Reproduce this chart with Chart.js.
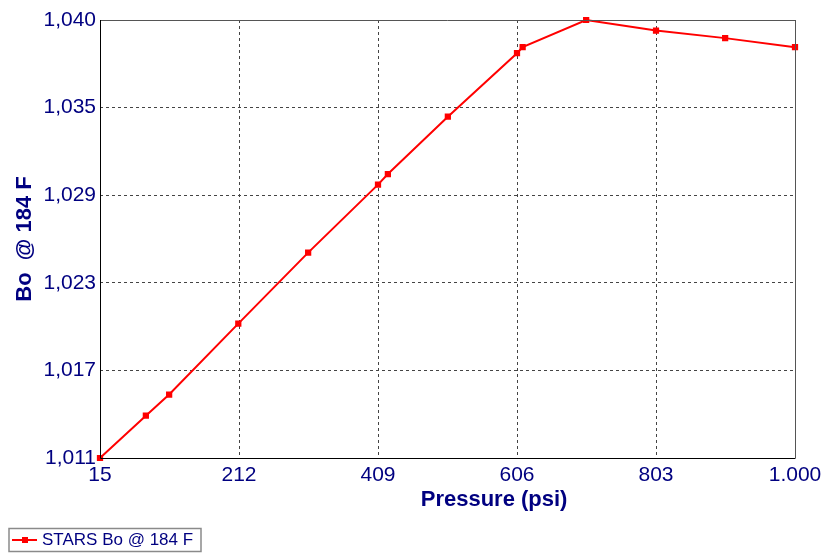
<!DOCTYPE html>
<html>
<head>
<meta charset="utf-8">
<script src="https://cdn.jsdelivr.net/npm/chart.js@4/dist/chart.umd.min.js"></script>
<style>
  html, body { margin: 0; padding: 0; background: #fff; }
  #wrap { width: 827px; height: 553px; position: relative; }
</style>
</head>
<body>
<div id="wrap"><canvas id="myChart" width="827" height="553"></canvas></div>
<script>
// valores
const pressure = [15, 80, 113, 211, 310, 409, 423, 508, 606, 614, 704, 803, 901, 1000];
const bo = [1.0110, 1.0138, 1.0152, 1.0199, 1.0246, 1.0291, 1.0298, 1.0336, 1.0378, 1.0382, 1.0400, 1.0393, 1.0388, 1.0382];
const xTicks = [15, 212, 409, 606, 803, 1000];
const xLabels = ["15", "212", "409", "606", "803", "1.000"];
const yLabels = ["1,011", "1,017", "1,023", "1,029", "1,035", "1,040"];
const yMin = 1.011, yMax = 1.040;
const serieLabel = "STARS Bo @ 184 F";

const navy = "#000080";
const fuente = "'Liberation Sans', Arial, sans-serif";

// marco, titulo del eje x y leyenda
const extras = {
  id: "extras",
  afterDraw(chart) {
    const { ctx, chartArea: a } = chart;
    ctx.save();
    ctx.lineWidth = 1;
    ctx.strokeStyle = "#555";
    ctx.beginPath();
    ctx.moveTo(a.left, a.top + 0.5);
    ctx.lineTo(a.right + 0.5, a.top + 0.5);
    ctx.lineTo(a.right + 0.5, a.bottom);
    ctx.stroke();
    ctx.strokeStyle = "#000";
    ctx.beginPath();
    ctx.moveTo(a.left + 0.5, a.top);
    ctx.lineTo(a.left + 0.5, a.bottom + 0.5);
    ctx.lineTo(a.right + 0.5, a.bottom + 0.5);
    ctx.stroke();

    // titulo eje x
    ctx.fillStyle = navy;
    ctx.font = "bold 22px " + fuente;
    ctx.textAlign = "center";
    ctx.textBaseline = "middle";
    ctx.fillText("Pressure (psi)", a.left + (a.right - a.left) * 0.567, 500);

    // leyenda
    ctx.strokeStyle = "#8a8a8a";
    ctx.lineWidth = 1.5;
    ctx.strokeRect(9, 528.5, 192, 23);
    ctx.strokeStyle = "#ff0000";
    ctx.lineWidth = 2;
    ctx.beginPath();
    ctx.moveTo(12, 540);
    ctx.lineTo(37, 540);
    ctx.stroke();
    ctx.fillStyle = "#ff0000";
    ctx.fillRect(22, 537, 6, 6);
    ctx.fillStyle = navy;
    ctx.font = "17px " + fuente;
    ctx.textAlign = "left";
    ctx.fillText(serieLabel, 42, 540);
    ctx.restore();
  }
};

const data = {
  datasets: [{
    label: serieLabel,
    data: pressure.map((p, i) => ({ x: p, y: bo[i] })),
    borderColor: "#ff0000",
    backgroundColor: "#ff0000",
    borderWidth: 2,
    pointStyle: "rect",
    pointRadius: 3,
    pointHoverRadius: 3,
    tension: 0,
    clip: false
  }]
};

const config = {
  type: "line",
  data: data,
  options: {
    responsive: false,
    animation: false,
    layout: { padding: { left: 0, right: 32, top: 20, bottom: 0 } },
    plugins: { legend: { display: false }, tooltip: { enabled: false } },
    scales: {
      x: {
        type: "linear",
        min: 15,
        max: 1000,
        afterBuildTicks: (s) => { s.ticks = xTicks.map(v => ({ value: v })); },
        afterFit: (s) => { s.height = 95; },
        ticks: {
          autoSkip: false,
          maxRotation: 0,
          padding: 5,
          color: navy,
          font: { family: fuente, size: 21 },
          callback: (v, i) => xLabels[i]
        },
        grid: { color: "#444", lineWidth: 1, drawTicks: false },
        border: { display: false, dash: [3, 3] }
      },
      y: {
        type: "linear",
        min: yMin,
        max: yMax,
        afterBuildTicks: (s) => {
          s.ticks = yLabels.map((l, i) => ({ value: yMin + i * (yMax - yMin) / (yLabels.length - 1) }));
        },
        afterFit: (s) => { s.width = 100; },
        ticks: {
          autoSkip: false,
          padding: 4,
          color: navy,
          font: { family: fuente, size: 21 },
          callback: (v, i) => yLabels[i]
        },
        title: {
          display: true,
          text: "Bo  @ 184 F",
          color: navy,
          font: { family: fuente, size: 22, weight: "bold" },
          padding: { top: 12, bottom: 0 }
        },
        grid: { color: "#444", lineWidth: 1, drawTicks: false },
        border: { display: false, dash: [3, 3] }
      }
    }
  },
  plugins: [extras]
};

let myChart = new Chart(document.getElementById("myChart"), config);
</script>
</body>
</html>
